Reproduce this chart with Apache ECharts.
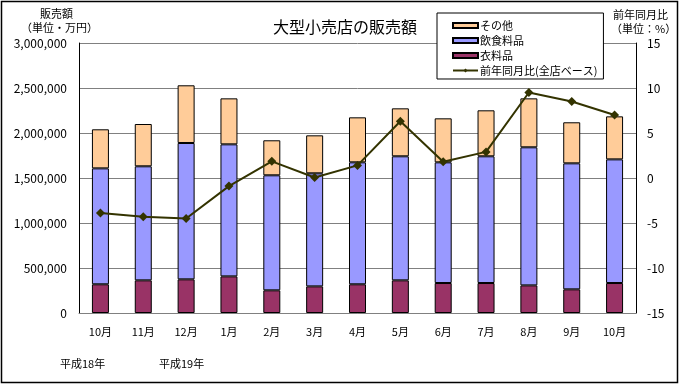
<!DOCTYPE html>
<html>
<head>
<meta charset="utf-8">
<script src="https://cdn.jsdelivr.net/npm/echarts@6/dist/echarts.min.js"></script>
<style>html,body{margin:0;padding:0;background:#fff;}#c{width:681px;height:386px;}</style>
</head>
<body>
<div id="c"></div>
<script>
const categories = ['10月','11月','12月','1月','2月','3月','4月','5月','6月','7月','8月','9月','10月'];
const clothing = [319000,363000,374000,407000,252000,296000,319000,363000,333000,333000,307000,263000,333000];
const food = [1288000,1267000,1515000,1467000,1278000,1256000,1355000,1378000,1341000,1408000,1534000,1400000,1374000];
const other = [434000,470000,641000,511000,389000,422000,500000,533000,489000,511000,544000,456000,478000];
const yoy = [-3.9,-4.3,-4.5,-0.9,1.85,0.05,1.4,6.3,1.8,2.9,9.5,8.5,7.0];
const leftTicks = [0,500000,1000000,1500000,2000000,2500000,3000000];
const rightTicks = [-15,-10,-5,0,5,10,15];

const FONT = '"Noto Sans CJK JP", sans-serif';
const chart = echarts.init(document.getElementById('c'));
chart.setOption({
  animation: false,
  backgroundColor: '#fff',
  textStyle: { fontFamily: FONT },
  title: {
    text: '大型小売店の販売額', left: 340, top: 14, textAlign: 'center',
    textStyle: { fontSize: 16, fontWeight: 'normal', color: '#000', fontFamily: FONT }
  },
  legend: {
    orient: 'vertical', left: 437, top: 13,
    padding: [7, 6, 3, 15], itemGap: 4,
    backgroundColor: '#fff', borderColor: '#000', borderWidth: 1, borderRadius: 0,
    itemWidth: 25, itemHeight: 5,
    textStyle: { fontSize: 11, color: '#000', fontFamily: FONT, padding: [0, 33, 0, -3] },
    data: [
      { name: 'その他', icon: 'rect' },
      { name: '飲食料品', icon: 'rect' },
      { name: '衣料品', icon: 'rect' },
      { name: '前年同月比(全店ベース)' }
    ]
  },
  grid: { left: 79, right: 45, top: 43, bottom: 73 },
  xAxis: {
    type: 'category', data: categories,
    axisLine: { lineStyle: { color: '#808080', width: 1 } },
    axisTick: { show: false },
    axisLabel: { color: '#000', fontSize: 11, margin: 13, fontFamily: FONT, interval: 0 }
  },
  yAxis: [
    {
      type: 'value', min: 0, max: 3000000, interval: 500000,
      axisLine: { show: true, lineStyle: { color: '#000' } },
      axisTick: { show: false },
      splitLine: { lineStyle: { color: '#808080' } },
      axisLabel: {
        color: '#000', fontSize: 12, margin: 12, fontFamily: FONT,
        formatter: v => v.toLocaleString('en-US')
      }
    },
    {
      type: 'value', min: -15, max: 15, interval: 5, position: 'right',
      axisLine: { show: true, lineStyle: { color: '#000' } },
      axisTick: { show: false },
      splitLine: { show: false },
      axisLabel: { color: '#000', fontSize: 12, margin: 11, fontFamily: FONT }
    }
  ],
  series: [
    { name: '衣料品', type: 'bar', stack: 's', data: clothing, barWidth: 17,
      itemStyle: { color: '#993366', borderColor: '#000', borderWidth: 1 } },
    { name: '飲食料品', type: 'bar', stack: 's', data: food, barWidth: 17,
      itemStyle: { color: '#9999FF', borderColor: '#000', borderWidth: 1 } },
    { name: 'その他', type: 'bar', stack: 's', data: other, barWidth: 17,
      itemStyle: { color: '#FFCC99', borderColor: '#000', borderWidth: 1 } },
    { name: '前年同月比(全店ベース)', type: 'line', yAxisIndex: 1, data: yoy,
      symbol: 'diamond', symbolSize: 9,
      lineStyle: { color: '#333300', width: 2 },
      itemStyle: { color: '#333300' } }
  ],
  graphic: [
    { type: 'rect', shape: { x: 1.5, y: 1.5, width: 676, height: 381 },
      style: { fill: 'none', stroke: '#000', lineWidth: 1.5 }, silent: true },
    { type: 'text', left: 40, top: 8, style: { text: '販売額', font: '11px ' + FONT, fill: '#000' } },
    { type: 'text', left: 21, top: 22, style: { text: '（単位・万円）', font: '11px ' + FONT, fill: '#000' } },
    { type: 'text', left: 613, top: 9, style: { text: '前年同月比', font: '11px ' + FONT, fill: '#000' } },
    { type: 'text', left: 611, top: 23, style: { text: '（単位：%）', font: '11px ' + FONT, fill: '#000' } },
    { type: 'text', left: 60, top: 358, style: { text: '平成18年', font: '11px ' + FONT, fill: '#000' } },
    { type: 'text', left: 159, top: 358, style: { text: '平成19年', font: '11px ' + FONT, fill: '#000' } }
  ]
});
</script>
</body>
</html>
